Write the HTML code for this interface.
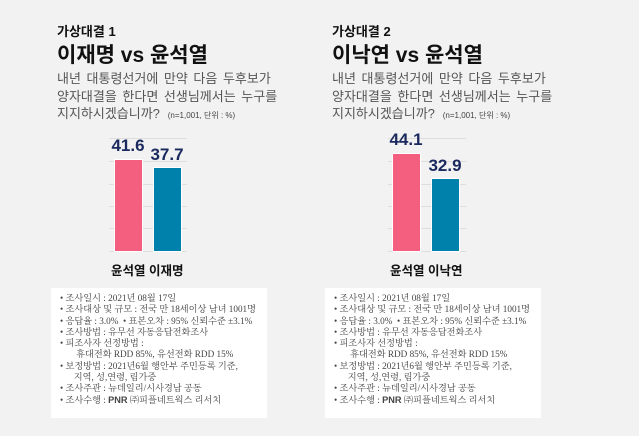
<!DOCTYPE html>
<html><head><meta charset="utf-8"><style>
body{margin:0;width:639px;height:436px;background:#f2f2f2;position:relative;overflow:hidden;font-family:"Liberation Sans","Noto Sans CJK KR",sans-serif}
.a{position:absolute;white-space:nowrap}
.t1{font-size:13px;font-weight:bold;color:#111}
.t2{font-size:21px;font-weight:bold;color:#111}
.q{font-size:13px;color:#555;line-height:17.5px;word-spacing:2px}
.q small{font-size:8px;color:#444;word-spacing:0}
.g{position:absolute;height:1px;background:#dedede}
.bar{position:absolute;border:1px solid #fff;box-sizing:border-box}
.v{position:absolute;font-size:17px;font-weight:bold;color:#1a2a5e;text-align:center;width:40px}
.c{font-size:12.5px;font-weight:bold;color:#111}
.box{position:absolute;background:#fff;font-family:"Liberation Serif","Noto Serif CJK SC",serif;font-size:9.2px;color:#444;line-height:11.3px;padding:5px 0 0 9px;box-sizing:border-box}
</style></head><body>
<div class="a t1" style="left:57px;top:21px">가상대결 1</div>
<div class="a t2" style="left:57px;top:39px">이재명 vs 윤석열</div>
<div class="a q" style="left:57px;top:70px">내년 대통령선거에 만약 다음 두후보가<br>양자대결을 한다면 선생님께서는 누구를<br>지지하시겠습니까? <small>&nbsp;(n=1,001, 단위 : %)</small></div>
<div class="a t1" style="left:332px;top:21px">가상대결 2</div>
<div class="a t2" style="left:332px;top:39px">이낙연 vs 윤석열</div>
<div class="a q" style="left:332px;top:70px">내년 대통령선거에 만약 다음 두후보가<br>양자대결을 한다면 선생님께서는 누구를<br>지지하시겠습니까? <small>&nbsp;(n=1,001, 단위 : %)</small></div>

<div class="g" style="left:109px;width:78px;top:138px"></div>
<div class="g" style="left:109px;width:78px;top:161px"></div>
<div class="g" style="left:109px;width:78px;top:184px"></div>
<div class="g" style="left:109px;width:78px;top:206px"></div>
<div class="g" style="left:109px;width:78px;top:228px"></div>
<div class="g" style="left:109px;width:78px;top:251px"></div>
<div class="bar" style="left:114px;width:29px;top:159px;height:93px;background:#f45f7f"></div>
<div class="bar" style="left:153px;width:29px;top:167px;height:85px;background:#0081ac"></div>
<div class="v" style="left:108px;top:136px">41.6</div>
<div class="v" style="left:147px;top:145px">37.7</div>
<div class="a c" style="left:111px;top:260px">윤석열 이재명</div>

<div class="g" style="left:388px;width:78px;top:138px"></div>
<div class="g" style="left:388px;width:78px;top:161px"></div>
<div class="g" style="left:388px;width:78px;top:184px"></div>
<div class="g" style="left:388px;width:78px;top:206px"></div>
<div class="g" style="left:388px;width:78px;top:228px"></div>
<div class="g" style="left:388px;width:78px;top:251px"></div>
<div class="bar" style="left:392px;width:29px;top:153px;height:99px;background:#f45f7f"></div>
<div class="bar" style="left:431px;width:29px;top:178px;height:74px;background:#0081ac"></div>
<div class="v" style="left:386px;top:130px">44.1</div>
<div class="v" style="left:425px;top:156px">32.9</div>
<div class="a c" style="left:390px;top:260px">윤석열 이낙연</div>

<div class="box" style="left:51px;top:288px;width:216px;height:130px">
• 조사일시 : 2021년 08월 17일<br>• 조사대상 및 규모 : 전국 만 18세이상 남녀 1001명<br>• 응답율 : 3.0% &nbsp;• 표본오차 : 95% 신뢰수준 ±3.1%<br>• 조사방법 : 유무선 자동응답전화조사<br>• 피조사자 선정방법 :<br>&nbsp;&nbsp;&nbsp;&nbsp;&nbsp;&nbsp;&nbsp;휴대전화 RDD 85%, 유선전화 RDD 15%<br>• 보정방법 : 2021년6월 행안부 주민등록 기준,<br>&nbsp;&nbsp;&nbsp;&nbsp;&nbsp;&nbsp;지역, 성,연령, 림가중<br>• 조사주관 : 뉴데일리/시사경남 공동<br>• 조사수행 : <b style="font-family:'Liberation Sans',sans-serif">PNR</b> ㈜피플네트웍스 리서치</div>
<div class="box" style="left:325px;top:288px;width:216px;height:130px">
• 조사일시 : 2021년 08월 17일<br>• 조사대상 및 규모 : 전국 만 18세이상 남녀 1001명<br>• 응답율 : 3.0% &nbsp;• 표본오차 : 95% 신뢰수준 ±3.1%<br>• 조사방법 : 유무선 자동응답전화조사<br>• 피조사자 선정방법 :<br>&nbsp;&nbsp;&nbsp;&nbsp;&nbsp;&nbsp;&nbsp;휴대전화 RDD 85%, 유선전화 RDD 15%<br>• 보정방법 : 2021년6월 행안부 주민등록 기준,<br>&nbsp;&nbsp;&nbsp;&nbsp;&nbsp;&nbsp;지역, 성,연령, 림가중<br>• 조사주관 : 뉴데일리/시사경남 공동<br>• 조사수행 : <b style="font-family:'Liberation Sans',sans-serif">PNR</b> ㈜피플네트웍스 리서치</div>
</body></html>
